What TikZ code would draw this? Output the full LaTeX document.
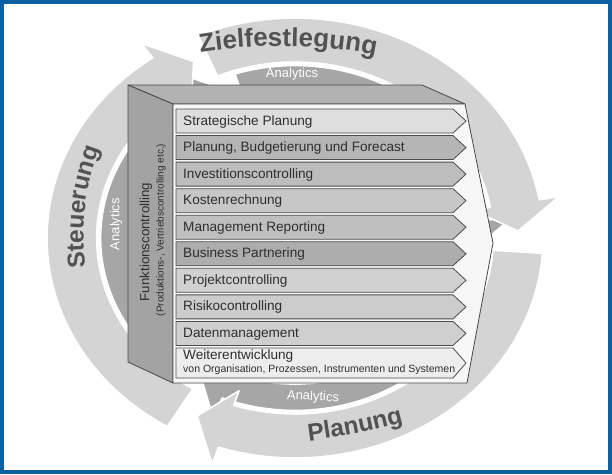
\documentclass[tikz,border=0pt]{standalone}
\usepackage{fontspec}
\setmainfont{Liberation Sans}
\usepackage{tikz}
\usetikzlibrary{decorations.text}
\definecolor{frameblue}{RGB}{10,96,160}

\begin{document}
\begin{tikzpicture}[x=1pt, y=-1pt,
  ring/.style={draw=white, line width=1.6pt, line join=round},
  outerring/.style={ring, fill=black!17},
  innerring/.style={ring, fill=black!35},
  face/.style={draw=black!72, line width=0.8pt, line join=round},
  rowbox/.style={draw=black!70, line width=0.8pt},
  rowtext/.style={anchor=west, inner sep=0pt, text=black!82, font=\fontsize{13.6}{15}\selectfont},
  analytics/.style={inner sep=0pt, text=white, font=\fontsize{13}{14}\selectfont},
  phase/.style 2 args={decorate, decoration={text along path, text align=center,
    text={|\bfseries\fontsize{#2}{#2}\selectfont\color{black!68}|#1}}}]
\useasboundingbox (0,0) rectangle (612,474);
\fill[white] (0,0) rectangle (612,474);
% rings
\begin{scope}[shift={(295,238)}, x=248pt, y=-220pt]
% inner ring
\filldraw[innerring] plot[domain=-108:-6, samples=40] (\x:0.784) -- (-6:0.88) -- (4:0.724)
   -- (-6:0.58) -- (-6:0.664) -- plot[domain=-6:-108, samples=40] (\x:0.664) -- cycle;
\filldraw[innerring] plot[domain=6:112, samples=40] (\x:0.784) -- (112:0.88) -- (122:0.724)
   -- (112:0.58) -- (112:0.664) -- plot[domain=112:6, samples=40] (\x:0.664) -- cycle;
\filldraw[innerring] plot[domain=124:238, samples=40] (\x:0.784) -- (238:0.88) -- (248:0.724)
   -- (238:0.58) -- (238:0.664) -- plot[domain=238:124, samples=40] (\x:0.664) -- cycle;
% outer ring
\filldraw[outerring] plot[domain=-113:-10, samples=40] (\x:1) -- (-10:1.08) -- (-2:0.9)
   -- (-10:0.73) -- (-10:0.8) -- plot[domain=-10:-113, samples=40] (\x:0.8) -- cycle;
\filldraw[outerring] plot[domain=4:108, samples=40] (\x:1) -- (108:1.08) -- (116:0.9)
   -- (108:0.73) -- (108:0.8) -- plot[domain=108:4, samples=40] (\x:0.8) -- cycle;
\filldraw[outerring] plot[domain=121:235, samples=40] (\x:1) -- (235:1.08) -- (243:0.9)
   -- (235:0.73) -- (235:0.8) -- plot[domain=235:121, samples=40] (\x:0.8) -- cycle;
\end{scope}
% ring labels
\path[phase={Zielfestlegung}{26}] (192,54) .. controls (248,43) and (327,43) .. (384,57);
\path[phase={Planung}{24.5}] (300,442) .. controls (335,438) and (375,431) .. (412,420);
\path[phase={Steuerung}{24.5}] (89,290) .. controls (79,240) and (81,185) .. (109,128);
\node[analytics] (antop) at (292,74) {Analytics};
\node[analytics, rotate=90] (anleft) at (116,224) {Analytics};
\node[analytics, rotate=-3] (anbottom) at (313,397) {Analytics};
% box
\filldraw[face, fill=black!30] (128,85) -- (422,85) -- (465,104) -- (173,104) -- cycle;
\filldraw[face, fill=black!36] (128,85) -- (173,104) -- (173,383) -- (128,362) -- cycle;
\filldraw[face, fill=black!3] (173,104) -- (465,104) -- (493,243) -- (467,383) -- (173,383) -- cycle;
\node[rotate=90, text=black!82, font=\fontsize{13.3}{14}\selectfont] (func) at (146,242) {Funktionscontrolling};
\node[rotate=90, text=black!82, font=\fontsize{10}{11}\selectfont] (funcsub) at (161,230) {(Produktions-, Vertriebscontrolling etc.)};
% rows
\foreach \i/\txt/\col in {0/Strategische Planung/black!13, 1/{Planung, Budgetierung und Forecast}/black!29,
  2/Investitionscontrolling/black!26, 3/Kostenrechnung/black!22, 4/Management Reporting/black!25,
  5/Business Partnering/black!32, 6/Projektcontrolling/black!18, 7/Risikocontrolling/black!20,
  8/Datenmanagement/black!19}{
  \pgfmathsetmacro\ytop{109+26.55*\i}
  \filldraw[rowbox, fill=\col] (176,\ytop) -- (453,\ytop) -- (466,\ytop+12) -- (453,\ytop+24)
     -- (176,\ytop+24) -- cycle;
  \node[rowtext] (row\i) at (183,\ytop+12.5) {\txt};
}
\filldraw[rowbox, fill=black!7] (176,348) -- (453,348) -- (466,363) -- (453,378) -- (176,378) -- cycle;
\node[rowtext] (row9) at (183,356) {Weiterentwicklung};
\node[rowtext, font=\fontsize{10.5}{11}\selectfont] (row9sub) at (183,370) {von Organisation, Prozessen, Instrumenten und Systemen};
% frame
\draw[frameblue, line width=4pt] (2,2) rectangle (610,472);
\end{tikzpicture}
\end{document}
